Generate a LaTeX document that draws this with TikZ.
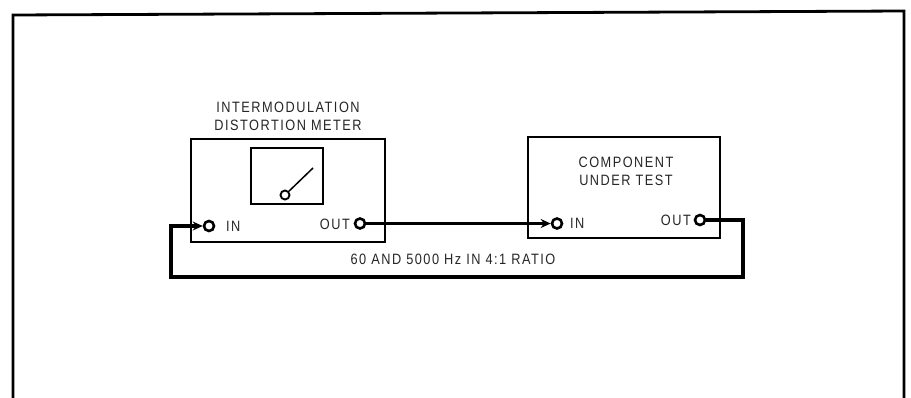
\documentclass[tikz,border=0pt]{standalone}
\usepackage{fontspec}
\setmainfont{Liberation Sans}
\usetikzlibrary{arrows.meta}
\begin{document}
\begin{tikzpicture}[x=1pt,y=-1pt,
  box/.style={draw=black,line width=1.6pt,minimum width=#1,inner sep=0pt},
  term/.style={circle,draw=black,line width=2.6pt,minimum size=10pt,inner sep=0pt,fill=white},
  lbl/.style={font=\fontsize{15}{18}\selectfont\addfontfeatures{FakeStretch=0.85,LetterSpace=10},inner sep=0pt,text=black!85},
  wire/.style={line width=3.2pt,black},
  tip/.style={-{Stealth[length=10pt,width=9pt]}}
]
\useasboundingbox (0,0) rectangle (911,397);
\fill[white] (0,0) rectangle (911,397);
% outer frame
\draw[line width=2.8pt] (13,420) -- (13,15) -- (904,11) -- (904,420);
% meter
\node[box=194pt,minimum height=103pt] (meter) at (288,190.5) {};
\node[lbl,align=center] (mtitle) at (288,116) {INTERMODULATION\\DISTORTION METER};
\node[box=72pt,minimum height=56pt] (window) at (287,176) {};
\node[circle,draw,line width=1.9pt,minimum size=9pt,inner sep=0pt] (pivot) at (285,195) {};
\coordinate (needle) at (313,168);
\draw[line width=1.5pt] (pivot) -- (needle);
\node[term] (min) at (209,226) {};
\node[lbl,anchor=west] (minl) at (226,226) {IN};
\node[term] (mout) at (360,223.5) {};
\node[lbl,anchor=east] (moutl) at (350,224) {OUT};
% component
\node[box=192pt,minimum height=101pt] (comp) at (624,187.5) {};
\node[lbl,align=center] (ctitle) at (626,171) {COMPONENT\\UNDER TEST};
\node[term] (cin) at (557,223.5) {};
\node[lbl,anchor=west] (cinl) at (570,223) {IN};
\node[term] (cout) at (700,220) {};
\node[lbl,anchor=east] (coutl) at (691,220) {OUT};
% wires
\draw[wire,tip] (mout) -- (cin);
\coordinate (r1) at (743,220);
\coordinate (r2) at (743,277);
\coordinate (l2) at (171,277);
\coordinate (l1) at (171,226);
\draw[wire,tip] (cout) -- (r1) -- (r2) -- (l2) -- (l1) -- (min);
\node[lbl] (ratio) at (453,259) {60 AND 5000 Hz IN 4:1 RATIO};
\end{tikzpicture}
\end{document}
